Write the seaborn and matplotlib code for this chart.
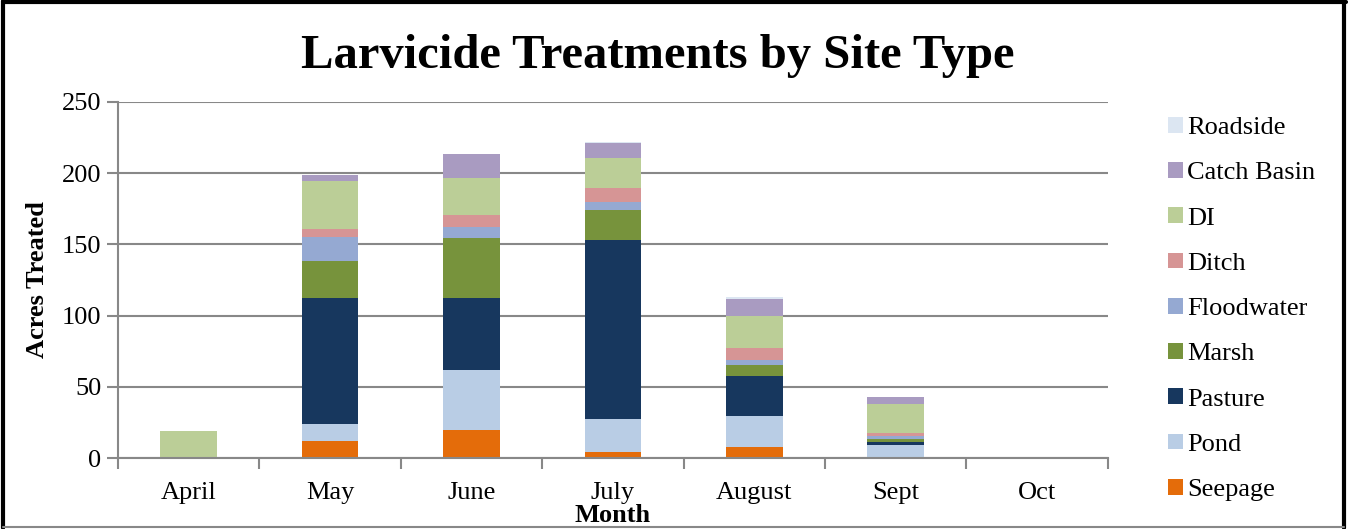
import matplotlib
matplotlib.use("Agg")
import matplotlib.pyplot as plt
import seaborn as sns
import pandas as pd
import numpy as np
from matplotlib.patches import Patch
from matplotlib.lines import Line2D

months = ["April", "May", "June", "July", "August", "Sept", "Oct"]
# stacking order bottom -> top
series_names = ["Seepage", "Pond", "Pasture", "Marsh", "Floodwater", "Ditch", "DI", "Catch Basin", "Roadside"]
seepage    = [0.0, 11.8, 19.5, 4.0, 7.6, 0.5, 0.0]
pond       = [0.0, 12.4, 42.4, 23.4, 22.0, 8.3, 0.0]
pasture    = [0.0, 87.9, 50.7, 125.5, 28.0, 2.3, 0.0]
marsh      = [0.0, 26.4, 42.0, 21.5, 7.5, 2.1, 0.0]
floodwater = [0.0, 16.4, 7.5, 5.4, 3.8, 2.1, 0.0]
ditch      = [0.0, 5.6, 8.2, 10.0, 8.1, 2.4, 0.0]
di         = [18.8, 34.0, 26.6, 21.0, 22.9, 20.5, 0.0]
catch_basin= [0.0, 3.9, 16.6, 10.6, 12.0, 4.4, 0.0]
roadside   = [0.0, 0.0, 0.0, 0.7, 1.0, 0.0, 0.0]
yticks = [0, 50, 100, 150, 200, 250]

colors = {
    "Seepage": "#E46C0A",
    "Pond": "#B9CDE5",
    "Pasture": "#17375E",
    "Marsh": "#77933C",
    "Floodwater": "#95A9D2",
    "Ditch": "#D69595",
    "DI": "#BBCE97",
    "Catch Basin": "#A99BC1",
    "Roadside": "#DCE6F2",
}

values = [seepage, pond, pasture, marsh, floodwater, ditch, di, catch_basin, roadside]
df = pd.DataFrame({n: v for n, v in zip(series_names, values)}, index=months)
cum = df.cumsum(axis=1)

sns.set_style("white")
plt.rcParams["font.family"] = ["Liberation Serif", "DejaVu Serif"]
plt.rcParams["text.color"] = "black"
plt.rcParams["axes.labelcolor"] = "black"
plt.rcParams["xtick.labelcolor"] = "black"
plt.rcParams["ytick.labelcolor"] = "black"

fig = plt.figure(figsize=(13.51, 5.29), dpi=100)
ax = fig.add_axes([0.0873, 0.1342, 0.7327, 0.6730])

for name in reversed(series_names):
    d = pd.DataFrame({"Month": months, "Acres": cum[name].values})
    sns.barplot(data=d, x="Month", y="Acres", order=months, color=colors[name],
                saturation=1, width=0.4, linewidth=0, ax=ax, zorder=3)

ax.set_ylim(0, 250)
ax.set_xlim(-0.5, 6.5)
ax.set_yticks(yticks)
ax.set_yticklabels([str(t) for t in yticks], fontsize=19)
grid_c = "#888888"
ax.yaxis.grid(True, color=grid_c, linewidth=1.5, zorder=0)
ax.set_axisbelow(True)
for s in ["top", "right"]:
    ax.spines[s].set_visible(False)
ax.spines["left"].set_color(grid_c)
ax.spines["left"].set_linewidth(1.5)
ax.spines["bottom"].set_color(grid_c)
ax.spines["bottom"].set_linewidth(1.5)
ax.spines["bottom"].set_zorder(4)
ax.tick_params(axis="y", which="major", direction="out", length=8, width=1.5, color=grid_c, left=True, pad=4)
# x ticks at category boundaries
ax.set_xticks(range(len(months)))
ax.set_xticklabels(months, fontsize=19)
ax.tick_params(axis="x", which="major", length=0, pad=17)
ax.set_xticks(np.arange(-0.5, 7.0, 1.0), minor=True)
ax.tick_params(axis="x", which="minor", direction="out", length=8, width=1.5, color=grid_c, bottom=True)

ax.set_xlabel("Month", fontsize=19, fontweight="bold", labelpad=0)
ax.set_ylabel("Acres Treated", fontsize=19, fontweight="bold", labelpad=9)

fig.text(0.487, 0.895, "Larvicide Treatments by Site Type", ha="center", va="center",
         fontsize=35, fontweight="bold")

handles = [Patch(facecolor=colors[n], edgecolor="none", label=n) for n in reversed(series_names)]
fig.legend(handles=handles, loc="center left", bbox_to_anchor=(0.857, 0.416), frameon=False,
           fontsize=19, handlelength=0.55, handleheight=0.55, handletextpad=0.15,
           labelspacing=0.87, borderaxespad=0)

# figure border
fig.add_artist(Line2D([0.002, 0.002], [0.002, 0.998], color="black", lw=3, transform=fig.transFigure))
fig.add_artist(Line2D([0.002, 0.996], [0.996, 0.996], color="black", lw=3, transform=fig.transFigure))
fig.add_artist(Line2D([0.995, 0.995], [0.002, 0.998], color="black", lw=3, transform=fig.transFigure))
fig.add_artist(Line2D([0.002, 0.995], [0.003, 0.003], color="#888888", lw=1.5, transform=fig.transFigure))

fig.savefig("out.png", dpi=100, facecolor="white")
